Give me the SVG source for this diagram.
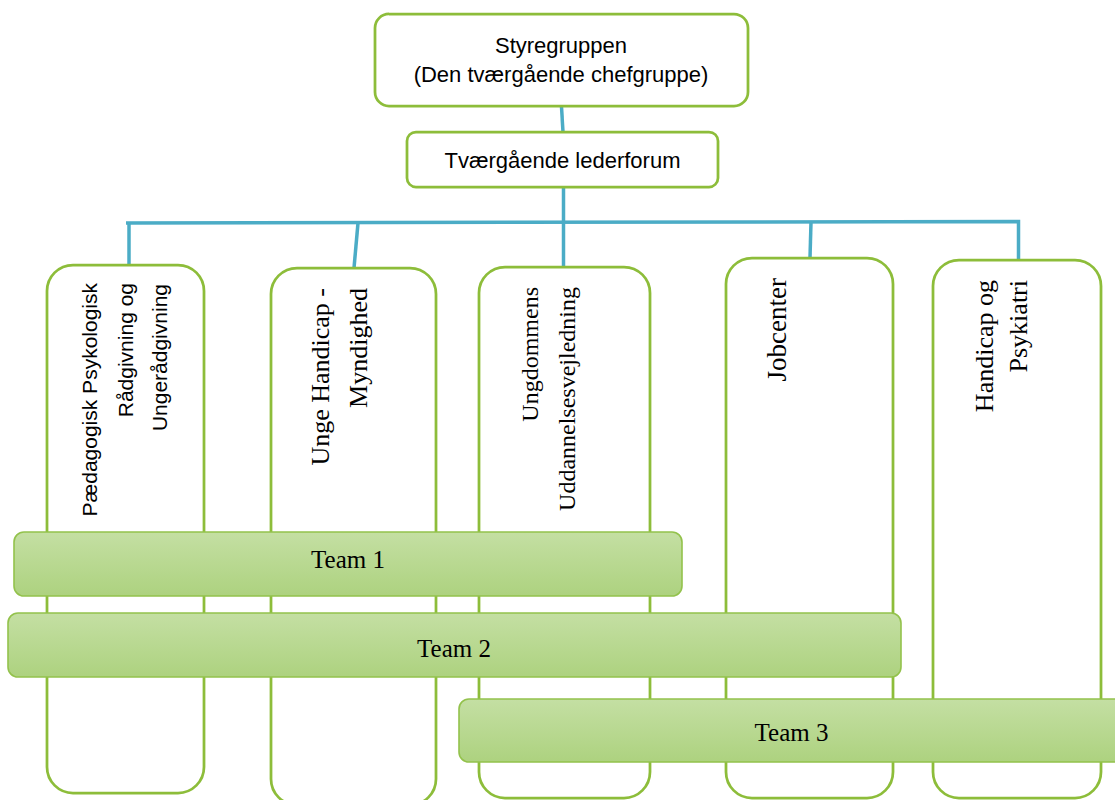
<svg xmlns="http://www.w3.org/2000/svg" width="1115" height="800" viewBox="0 0 1115 800">
<defs>
<linearGradient id="teamGrad" x1="0" y1="0" x2="0" y2="1">
<stop offset="0" stop-color="#C4DFA3"/>
<stop offset="1" stop-color="#ADD27F"/>
</linearGradient>
</defs>
<style>
.box{fill:#FFFFFF;stroke:#8DBD3A;stroke-width:2.75}
.team{fill:url(#teamGrad);stroke:#93C24C;stroke-width:1.6}
.conn{fill:none;stroke:#4BACC6;stroke-width:3.5;stroke-linecap:butt}
.sans{font-family:"Liberation Sans",Arial,sans-serif;fill:#000000}
.serif{font-family:"Liberation Serif","Times New Roman",serif;fill:#000000}
</style>
<rect width="1115" height="800" fill="#FFFFFF"/>
<g id="connectors">
<path class="conn" d="M561.5,107 L563,132"/>
<path class="conn" d="M563.5,188 L563.5,267"/>
<path class="conn" d="M126,223 L1018.5,221.5 L1018.5,260"/>
<path class="conn" d="M129,223 L129,264"/>
<path class="conn" d="M358,223 L354,268"/>
<path class="conn" d="M811,222 L810,258"/>
</g>
<g id="node-styregruppen">
<rect class="box" x="375" y="14" width="373" height="92" rx="14"/>
<text class="sans" font-size="22" text-anchor="middle" x="561" y="53">Styregruppen</text>
<text class="sans" font-size="22" text-anchor="middle" x="561" y="82">(Den tværgående chefgruppe)</text>
</g>
<g id="node-lederforum">
<rect class="box" x="407" y="132" width="311" height="55" rx="9"/>
<text class="sans" font-size="22" text-anchor="middle" x="562.5" y="168">Tværgående lederforum</text>
</g>
<g id="node-ppr">
<rect class="box" x="47" y="265" width="157" height="528" rx="26"/>
<text class="sans" font-size="21" text-anchor="end" transform="translate(97,283) rotate(-90)">Pædagogisk Psykologisk</text>
<text class="sans" font-size="21" text-anchor="end" transform="translate(133,283) rotate(-90)">Rådgivning og</text>
<text class="sans" font-size="21" text-anchor="end" transform="translate(167,284) rotate(-90)">Ungerådgivning</text>
</g>
<g id="node-unge-handicap">
<rect class="box" x="271" y="268" width="165" height="537" rx="26"/>
<text class="serif" font-size="26" text-anchor="end" transform="translate(329,288) rotate(-90)">Unge Handicap -</text>
<text class="serif" font-size="26" text-anchor="end" transform="translate(367,288) rotate(-90)">Myndighed</text>
</g>
<g id="node-uu">
<rect class="box" x="479" y="267" width="171" height="531" rx="26"/>
<text class="serif" font-size="24" text-anchor="end" transform="translate(538,287) rotate(-90)">Ungdommens</text>
<text class="serif" font-size="24" text-anchor="end" transform="translate(575,287) rotate(-90)">Uddannelsesvejledning</text>
</g>
<g id="node-jobcenter">
<rect class="box" x="726" y="258" width="167" height="540" rx="26"/>
<text class="serif" font-size="27" text-anchor="end" transform="translate(786,278) rotate(-90)">Jobcenter</text>
</g>
<g id="node-handicap-psykiatri">
<rect class="box" x="933" y="260" width="168" height="538" rx="26"/>
<text class="serif" font-size="26" text-anchor="end" transform="translate(993,280) rotate(-90)">Handicap og</text>
<text class="serif" font-size="26" text-anchor="end" transform="translate(1027,280) rotate(-90)">Psykiatri</text>
</g>
<g id="node-team1">
<rect class="team" x="14" y="532" width="668" height="64" rx="10"/>
<text class="serif" font-size="25" text-anchor="middle" x="348" y="568">Team 1</text>
</g>
<g id="node-team2">
<rect class="team" x="8" y="613" width="893" height="64" rx="10"/>
<text class="serif" font-size="25" text-anchor="middle" x="454" y="657">Team 2</text>
</g>
<g id="node-team3">
<rect class="team" x="459" y="699" width="666" height="63" rx="10"/>
<text class="serif" font-size="25" text-anchor="middle" x="791.5" y="741">Team 3</text>
</g>
</svg>
